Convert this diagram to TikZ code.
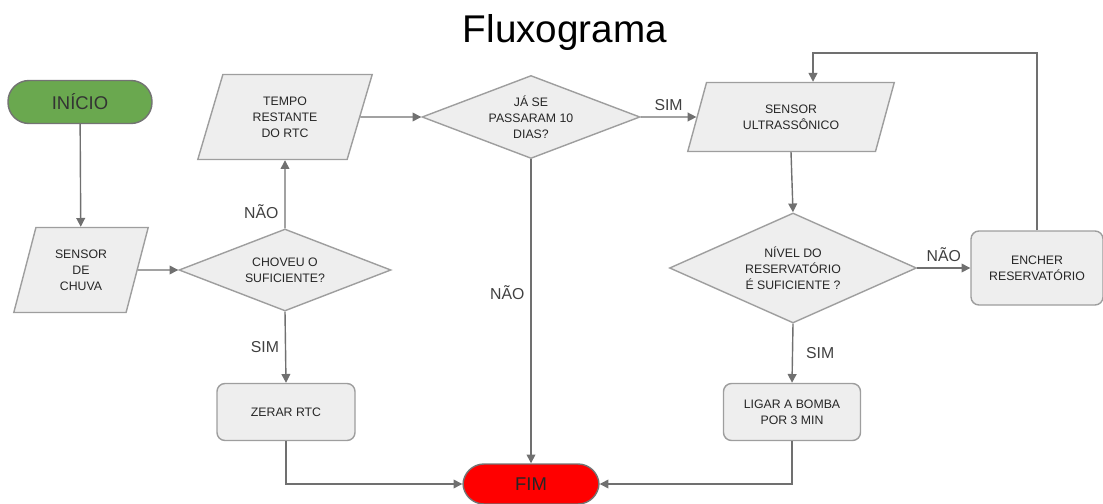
\documentclass[tikz,border=0pt]{standalone}
\usepackage{fontspec}
\setmainfont{Liberation Sans}
\usetikzlibrary{shapes.geometric,arrows.meta}

\definecolor{verdeini}{HTML}{6AA84F}
\definecolor{cinzabox}{HTML}{EEEEEE}
\definecolor{cinzaborda}{HTML}{9E9E9E}
\definecolor{cinzalinha}{HTML}{707070}

\tikzset{
  caixa/.style={draw=cinzaborda, fill=cinzabox, line width=0.8pt, text=black!85,
    font=\fontsize{7}{9}\selectfont, align=center, inner sep=2pt},
  processo/.style={caixa, rectangle, rounded corners=0.16cm, minimum width=2.76cm, minimum height=1.14cm},
  dados/.style={caixa, trapezium, trapezium left angle=73, trapezium right angle=107, trapezium stretches=true},
  decisao/.style={caixa, diamond, inner sep=0pt, aspect=2.6},
  terminal/.style={rectangle, rounded corners=0.42cm, draw=black!55, line width=0.8pt,
    font=\fontsize{10.5}{12}\selectfont, minimum height=0.86cm},
  seta/.style={draw=cinzalinha, line width=0.8pt, -{Triangle[length=5pt,width=5pt]}},
  rotulo/.style={font=\fontsize{9}{10}\selectfont, text=black!75}
}

\begin{document}
\begin{tikzpicture}
        \useasboundingbox (0,0) rectangle (22.06,-10.08);

        % Titulo
        \node (titulo) at (11.3,-0.66) {\fontsize{22}{26}\selectfont Fluxograma};

        % Inicio e fim
        \node[terminal, fill=verdeini, text=black!80, minimum width=2.88cm] (inicio) at (1.6,-2.04) {INÍCIO};
        \node[terminal, fill=red, text=black!85, minimum width=2.72cm, minimum height=0.8cm] (fim) at (10.62,-9.68) {FIM};

        % Lado esquerdo
        \node[dados, minimum width=2.7cm, minimum height=1.7cm] (chuva) at (1.62,-5.4) {SENSOR\\DE\\CHUVA};
        \node[decisao, minimum width=4.24cm, minimum height=1.64cm] (choveu) at (5.7,-5.4) {CHOVEU O\\SUFICIENTE?};
        \node[dados, minimum width=3.5cm, minimum height=1.7cm] (tempo) at (5.7,-2.34) {TEMPO\\RESTANTE\\DO RTC};
        \node[processo] (zerar) at (5.72,-8.24) {ZERAR RTC};

        % Meio
        \node[decisao, minimum width=4.36cm, minimum height=1.66cm] (dias) at (10.62,-2.34) {JÁ SE\\PASSARAM 10\\DIAS?};

        % Lado direito
        \node[dados, trapezium left angle=70, trapezium right angle=110, minimum width=4.14cm, minimum height=1.38cm] (ultra) at (15.82,-2.34) {SENSOR\\ULTRASSÔNICO};
        \node[decisao, aspect=2.25, minimum width=4.94cm, minimum height=2.2cm] (nivel) at (15.86,-5.36) {NÍVEL DO\\RESERVATÓRIO\\É SUFICIENTE ?};
        \node[processo, minimum width=2.64cm, minimum height=1.48cm] (encher) at (20.74,-5.36) {ENCHER\\RESERVATÓRIO};
        \node[processo, minimum width=2.74cm] (ligar) at (15.84,-8.24) {LIGAR A BOMBA\\POR 3 MIN};
        \coordinate (volta) at (16.26,-1.06);

        % Ligacoes
        \draw[seta] (inicio) -- (chuva);
        \draw[seta] (chuva.east) -- (choveu.west);
        \draw[seta] (choveu.north) -- (tempo.south) node[rotulo, pos=0.25, left] {NÃO};
        \draw[seta] (choveu.south) -- (zerar.north) node[rotulo, midway, left] {SIM};
        \draw[seta] (tempo.east) -- (dias.west);
        \draw[seta] (dias.east) -- (ultra.west) node[rotulo, midway, above] {SIM};
        \draw[seta] (dias.south) -- (fim.north) node[rotulo, pos=0.44, left] {NÃO};
        \draw[seta] (ultra.south) -- (nivel.north);
        \draw[seta] (nivel.east) -- (encher.west) node[rotulo, midway, above] {NÃO};
        \draw[seta] (nivel.south) -- (ligar.north) node[rotulo, midway, right=4pt] {SIM};
        \draw[seta] (encher.north) |- (volta) -- (volta |- ultra.north);
        \draw[seta] (zerar.south) |- (fim.west);
        \draw[seta] (ligar.south) |- (fim.east);
    \end{tikzpicture}
\end{document}
